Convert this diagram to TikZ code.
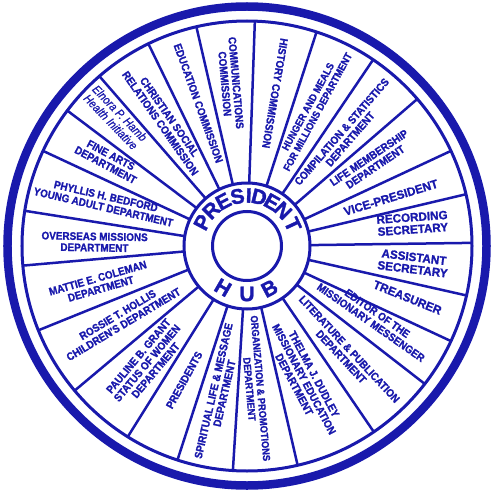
\documentclass[tikz,border=0pt]{standalone}
\usepackage{fontspec}
\setmainfont{Liberation Sans}
\newfontfamily\lblfont[FakeStretch=0.9,FakeBold=1.2]{Liberation Sans}
\newfontfamily\ofcfont[FakeStretch=0.97,FakeBold=1.2]{Liberation Sans}
\newfontfamily\narfont[FakeStretch=0.87,FakeBold=0.6]{Liberation Sans}
\newfontfamily\hubfont[FakeBold=1.6]{Liberation Sans}
\definecolor{wb}{RGB}{25,25,172}
\tikzset{
  lab/.style={text=wb, font=\lblfont\bfseries\fontsize{11}{11.2}\selectfont, align=center, inner sep=0pt},
  labs/.style={text=wb, font=\lblfont\bfseries\fontsize{10.3}{11}\selectfont, align=center, inner sep=0pt},
  ofc/.style={text=wb, font=\ofcfont\bfseries\fontsize{12}{12.2}\selectfont, align=center, inner sep=0pt},
  ita/.style={text=wb, font=\narfont\itshape\fontsize{12}{12.6}\selectfont, align=center, inner sep=0pt},
  hubl/.style={text=wb, font=\hubfont\bfseries\fontsize{21}{21}\selectfont, inner sep=0pt},
  spoke/.style={draw=wb, line width=2.5pt},
  ringline/.style={draw=wb, line width=3pt}
}
\begin{document}
\begin{tikzpicture}[x=1pt,y=1pt]
\useasboundingbox (-247,-244) rectangle (248,246);
\coordinate (c) at (0,0);
% rings
\draw[draw=wb, line width=8.5pt] (c) circle (239.5);
\draw[ringline] (c) circle (225);
\draw[ringline] (c) circle (63);
\draw[ringline] (c) circle (34.5);
% spokes
\foreach \a in {0.8,13.3,25,40.8,55.9,72,88,103,116,131,143,155,171,185,202,220,238,252,266.4,283,304.3,322.2,335,347.3}
  \draw[spoke] (\a:63) -- (\a:225);
% labels
\node[lab, rotate=-85] (l1) at (95.8:163.5) {COMMUNICATIONS\\COMMISSION};
\node[lab, rotate=-99.6] (l2) at (79.6:155.3) {HISTORY COMMISSION};
\node[labs, rotate=61.5] (l3) at (64.3:151.8) {HUNGER AND MEALS\\FOR MILLIONS DEPARTMENT};
\node[lab, rotate=49] (l4) at (48.2:148.4) {COMPILATION \& STATISTICS\\DEPARTMENT};
\node[lab, rotate=34] (l5) at (33.8:150.5) {LIFE MEMBERSHIP\\DEPARTMENT};
\node[ofc, rotate=17] (l6) at (18.6:151.8) {VICE-PRESIDENT};
\node[ofc, rotate=4] (l7) at (7.8:167) {RECORDING\\SECRETARY};
\node[ofc, rotate=-7] (l8) at (354.1:167.2) {ASSISTANT\\SECRETARY};
\node[ofc, rotate=-22] (l9) at (342.2:168.6) {TREASURER};
\node[lab, rotate=-35] (l10) at (330.5:146.1) {EDITOR OF THE\\MISSIONARY MESSENGER};
\node[lab, rotate=-47] (l11) at (312.6:145.3) {LITERATURE \& PUBLICATION\\DEPARTMENT};
\node[lab, rotate=-62] (l12) at (293.2:145) {THELMA J. DUDLEY\\MISSIONARY EDUCATION\\DEPARTMENT};
\node[labs, rotate=-85] (l13) at (273.2:143) {ORGANIZATION \& PROMOTIONS\\DEPARTMENT};
\node[lab, rotate=77] (l14) at (259.1:148.7) {SPIRITUAL LIFE \& MESSAGE\\DEPARTMENT};
\node[lab, rotate=61] (l15) at (244.9:148) {PRESIDENTS};
\node[lab, rotate=50] (l16) at (229.5:154) {PAULINE B. GRANT\\STATUS OF WOMEN\\DEPARTMENT};
\node[lab, rotate=31] (l17) at (210.2:146.3) {ROSSIE T. HOLLIS\\CHILDREN'S DEPARTMENT};
\node[lab, rotate=16] (l18) at (194.2:152.4) {MATTIE E. COLEMAN\\DEPARTMENT};
\node[lab, rotate=-1] (l19) at (178.5:152.5) {OVERSEAS MISSIONS\\DEPARTMENT};
\node[lab, rotate=-13] (l20) at (162.7:149.1) {PHYLLIS H. BEDFORD\\YOUNG ADULT DEPARTMENT};
\node[lab, rotate=-28] (l21) at (148.2:163.2) {FINE ARTS\\DEPARTMENT};
\node[ita, rotate=-46] (l22) at (135.7:184) {Elnora P. Hamb\\Health Initiative};
\node[lab, rotate=-55] (l23) at (123.1:150.3) {CHRISTIAN SOCIAL\\RELATIONS COMMISSION};
\node[lab, rotate=-70.2] (l24) at (108.8:150.8) {EDUCATION COMMISSION};
% hub text
\foreach \ch/\ang [count=\i] in {P/152,R/135,E/118,S/101,I/88,D/76,E/60.5,N/44.5,T/25}
  \node[hubl, rotate=\ang-90] (hp\i) at (\ang:50.5) {\ch};
\foreach \ch/\ang [count=\i] in {H/240,U/270,B/298}
  \node[hubl, rotate=\ang+90] (hh\i) at (\ang:48) {\ch};
\end{tikzpicture}
\end{document}
